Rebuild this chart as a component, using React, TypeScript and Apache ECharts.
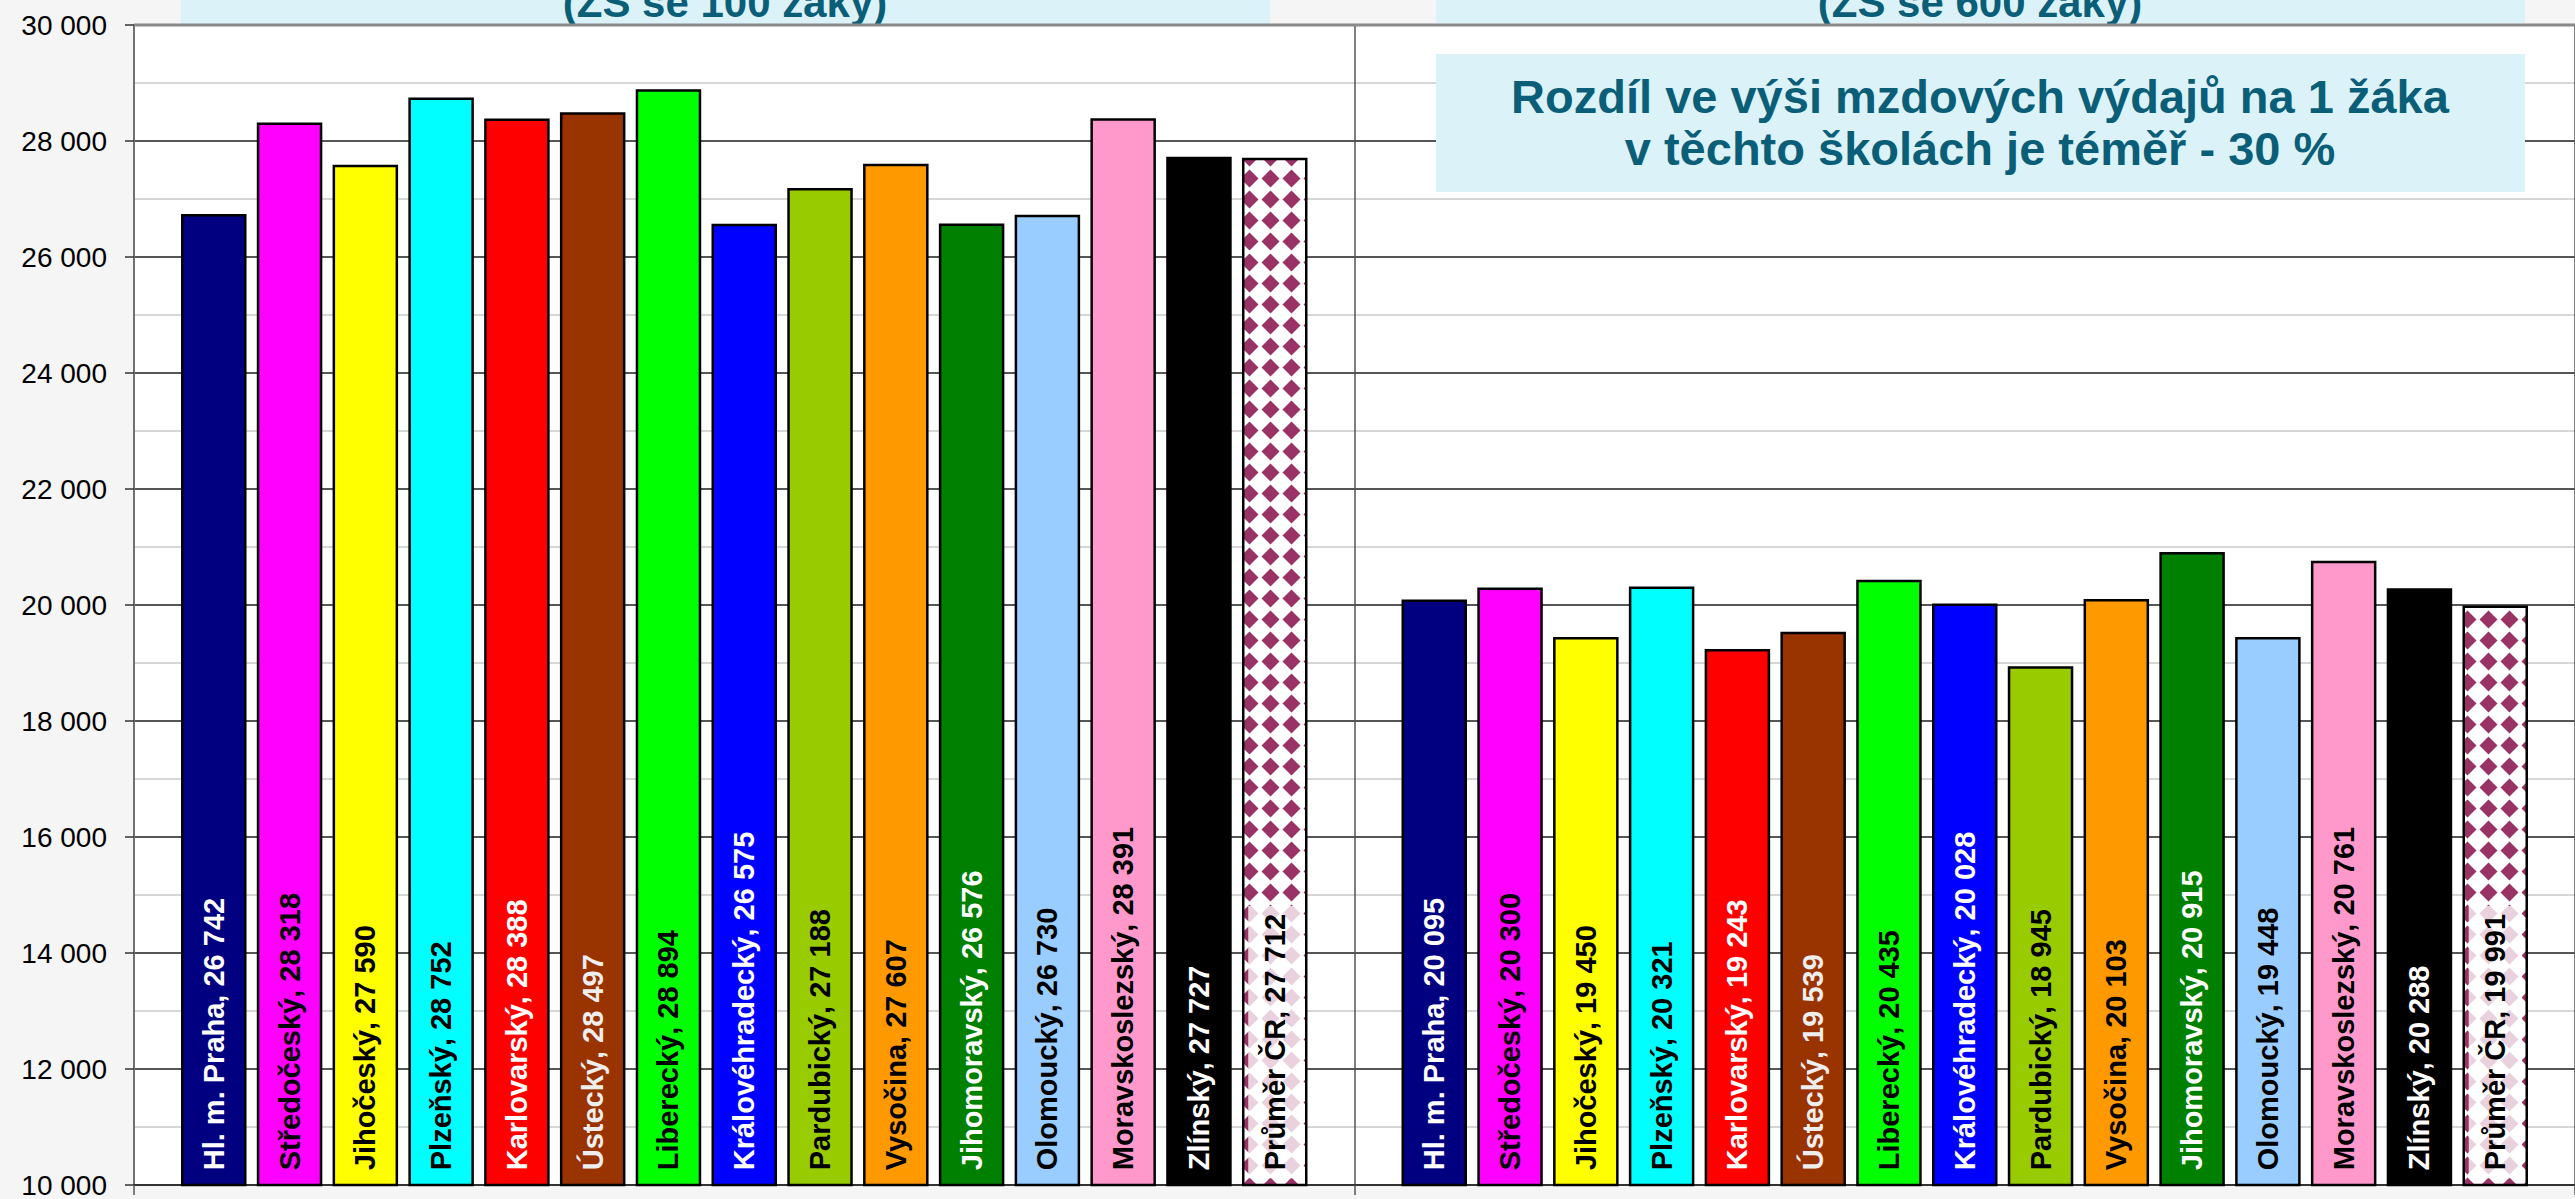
import React, { useEffect, useRef } from 'react';
import * as echarts from 'echarts';

const categories = ['ZŠ se 100 žáky', 'ZŠ se 600 žáky'];
const regions = [
  'Hl. m. Praha', 'Středočeský', 'Jihočeský', 'Plzeňský', 'Karlovarský', 'Ústecký',
  'Liberecký', 'Královéhradecký', 'Pardubický', 'Vysočina', 'Jihomoravský',
  'Olomoucký', 'Moravskoslezský', 'Zlínský', 'Průměr ČR',
];
const values100 = [26742, 28318, 27590, 28752, 28388, 28497, 28894, 26575, 27188, 27607, 26576, 26730, 28391, 27727, 27712];
const values600 = [20095, 20300, 19450, 20321, 19243, 19539, 20435, 20028, 18945, 20103, 20915, 19448, 20761, 20288, 19991];
const barColors = [
  '#000080', '#FF00FF', '#FFFF00', '#00FFFF', '#FF0000', '#993300', '#00FF00',
  '#0000FF', '#99CC00', '#FF9900', '#008000', '#99CCFF', '#FF99CC', '#000000', 'pattern',
];
const labelColors = [
  '#ffffff', '#000000', '#000000', '#000000', '#ffffff', '#eeeeee', '#000000',
  '#ffffff', '#000000', '#000000', '#ffffff', '#000000', '#000000', '#ffffff', '#000000',
];
const yMin = 10000;
const yMax = 30000;
const yInterval = 2000;
const titleLeft = '(ZŠ se 100 žáky)';
const titleRight = '(ZŠ se 600 žáky)';
const noteText = 'Rozdíl ve výši mzdových výdajů na 1 žáka\nv těchto školách je téměř - 30 %';

const FONT = '"Liberation Sans", Arial, sans-serif';
const fmt = (v: number) => String(v).replace(/\B(?=(\d{3})+(?!\d))/g, ' ');

function makePattern() {
  const s = 21;
  const c = document.createElement('canvas');
  c.width = s;
  c.height = s;
  const ctx = c.getContext('2d')!;
  ctx.fillStyle = '#ffffff';
  ctx.fillRect(0, 0, s, s);
  ctx.fillStyle = '#993366';
  const h = s / 2;
  const r = 9;
  ctx.beginPath();
  ctx.moveTo(h, h - r);
  ctx.lineTo(h + r, h);
  ctx.lineTo(h, h + r);
  ctx.lineTo(h - r, h);
  ctx.closePath();
  ctx.fill();
  return c;
}

export default function App() {
  const ref = useRef<HTMLDivElement>(null);
  useEffect(() => {
    if (!ref.current) return;
    const chart = echarts.init(ref.current, null, { renderer: 'svg' });
    const patternCanvas = makePattern();
    const pattern: any = { image: patternCanvas, repeat: 'repeat', imageWidth: 21, imageHeight: 21 };

    const series = regions.map((name, i) => {
      const isAvg = barColors[i] === 'pattern';
      return {
        type: 'bar',
        name,
        data: [values100[i], values600[i]],
        barWidth: 65.5,
        barGap: '15.7%',
        itemStyle: {
          color: isAvg ? pattern : barColors[i],
          borderColor: '#000',
          borderWidth: 2.5,
        },
        label: {
          show: true,
          position: 'insideBottom',
          distance: isAvg ? 8 : 16,
          rotate: 90,
          align: 'left',
          verticalAlign: 'middle',
          formatter: (p: any) => `${p.seriesName}, ${fmt(p.value)}`,
          color: labelColors[i],
          fontFamily: FONT,
          fontWeight: 'bold',
          fontSize: 29,
          ...(isAvg ? { backgroundColor: 'rgba(255,255,255,0.78)', padding: [12, 8] } : {}),
        },
      };
    });

    chart.setOption({
      animation: false,
      backgroundColor: '#f5f5f5',
      grid: { left: 134, top: 25, width: 2452, height: 1163, show: true, backgroundColor: '#ffffff', borderWidth: 0 },
      xAxis: {
        type: 'category',
        data: categories,
        axisLine: { show: true, lineStyle: { color: '#333', width: 2 } },
        axisTick: { show: true, length: 10, lineStyle: { color: '#555', width: 1.5 } },
        axisLabel: { show: false },
        splitLine: { show: true, lineStyle: { color: '#555', width: 1.5 } },
      },
      yAxis: {
        type: 'value',
        min: yMin,
        max: yMax,
        interval: yInterval,
        axisLine: { show: true, lineStyle: { color: '#707070', width: 2 } },
        axisTick: { show: true, length: 9, lineStyle: { color: '#333', width: 1.5 } },
        axisLabel: { fontSize: 28, fontFamily: FONT, color: '#000', margin: 27, formatter: (v: number) => fmt(v) },
        splitLine: { show: true, lineStyle: { color: '#1e1e1e', width: 1.5 } },
        minorTick: { show: false, splitNumber: 2 },
        minorSplitLine: { show: true, lineStyle: { color: '#c8c8c8', width: 1.5 } },
      },
      series,
      graphic: [
        { type: 'rect', z: 50, shape: { x: 181, y: -10, width: 1089, height: 35 }, style: { fill: '#dbf3f8' } },
        { type: 'rect', z: 50, shape: { x: 1436, y: -10, width: 1089, height: 33 }, style: { fill: '#dbf3f8' } },
        { type: 'rect', z: 50, shape: { x: 1436, y: 54, width: 1089, height: 138 }, style: { fill: '#dbf3f8' } },
        {
          type: 'text', z: 51, x: 725, y: 2,
          style: { text: titleLeft, fill: '#0b5e77', font: `bold 42px ${FONT}`, align: 'center', verticalAlign: 'middle' },
        },
        {
          type: 'text', z: 51, x: 1980, y: 2,
          style: { text: titleRight, fill: '#0b5e77', font: `bold 42px ${FONT}`, align: 'center', verticalAlign: 'middle' },
        },
        {
          type: 'text', z: 51, x: 1980, y: 122,
          style: { text: noteText, fill: '#0b5e77', font: `bold 47px ${FONT}`, lineHeight: 52, align: 'center', verticalAlign: 'middle' },
        },
        { type: 'line', z: 52, shape: { x1: 134, y1: 25, x2: 2575, y2: 25 }, style: { stroke: '#8a8a8a', lineWidth: 3 } },
      ],
    });
    return () => chart.dispose();
  }, []);
  return <div ref={ref} style={{ position: 'fixed', left: 0, top: 0, width: 2575, height: 1199 }} />;
}
